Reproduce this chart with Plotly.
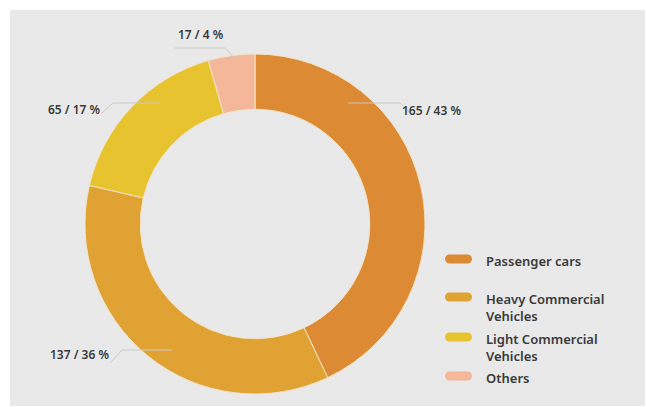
import plotly.graph_objects as go

# ---- data ----
categories = ["Passenger cars", "Heavy Commercial Vehicles", "Light Commercial Vehicles", "Others"]
legend_labels = ["Passenger cars", "Heavy Commercial<br>Vehicles", "Light Commercial<br>Vehicles", "Others"]
values = [165, 137, 65, 17]
percents = [43, 36, 17, 4]
colors = ["#DC8A34", "#E0A232", "#E8C330", "#F4B79A"]

W, H = 646, 407
def px(x):
    return x / W
def py(y):
    return 1 - y / H

fig = go.Figure()

# donut: center (255,224), radius 170
cx, cy, R = 255, 224, 170
fig.add_trace(go.Pie(
    labels=categories,
    values=values,
    hole=0.675,
    sort=False,
    direction="clockwise",
    rotation=0,
    marker=dict(colors=colors, line=dict(color="#F3E3C6", width=1)),
    textinfo="none",
    hoverinfo="label+value+percent",
    showlegend=False,
    domain=dict(x=[px(cx - R), px(cx + R)], y=[py(cy + R), py(cy - R)]),
))

shapes = []
# gray panel
shapes.append(dict(type="rect", xref="paper", yref="paper", x0=px(10), x1=px(645), y0=py(406), y1=py(10),
                   fillcolor="#E9E9E9", line=dict(width=0), layer="below"))

# leader lines (layout positions) and label placement
label_pos = [(432, 110), (79, 354), (74, 109), (201, 35)]
leaders = [
    [(348, 103), (400, 103), (412, 115)],
    [(172, 350), (122, 350), (110, 363)],
    [(160, 103), (113, 103), (102, 113)],
    [(175, 48), (225, 48), (236, 60)],
]
for pts in leaders:
    path = "M " + " L ".join(f"{px(x)},{py(y)}" for x, y in pts)
    shapes.append(dict(type="path", xref="paper", yref="paper", path=path,
                       line=dict(color="#C9C9C9", width=1)))

annotations = []
for (x, y), v, p in zip(label_pos, values, percents):
    annotations.append(dict(text=f"{v} / {p} %", x=px(x), y=py(y), xref="paper", yref="paper",
                            xanchor="center", yanchor="middle", showarrow=False,
                            font=dict(family="Noto Sans", size=12, color="#3A3A3A", weight=600)))

# custom legend with pill markers
legend_marker_y = [259, 297, 337, 376]
lx0, lx1, ph = 445, 472, 9
for ym, lab, col in zip(legend_marker_y, legend_labels, colors):
    r = ph / 2
    y0, y1 = ym - r, ym + r
    k = 0.55 * r
    path = (f"M {px(lx0 + r)},{py(y0)} L {px(lx1 - r)},{py(y0)} "
            f"C {px(lx1 - r + k)},{py(y0)} {px(lx1)},{py(ym - k)} {px(lx1)},{py(ym)} "
            f"C {px(lx1)},{py(ym + k)} {px(lx1 - r + k)},{py(y1)} {px(lx1 - r)},{py(y1)} "
            f"L {px(lx0 + r)},{py(y1)} "
            f"C {px(lx0 + r - k)},{py(y1)} {px(lx0)},{py(ym + k)} {px(lx0)},{py(ym)} "
            f"C {px(lx0)},{py(ym - k)} {px(lx0 + r - k)},{py(y0)} {px(lx0 + r)},{py(y0)} Z")
    shapes.append(dict(type="path", xref="paper", yref="paper", path=path,
                       fillcolor=col, line=dict(width=0)))
    annotations.append(dict(text=lab, x=px(484), y=py(ym - 9.5), xref="paper", yref="paper",
                            xanchor="left", yanchor="top", align="left", showarrow=False,
                            font=dict(family="Noto Sans", size=13, color="#3A3A3A", weight=600)))

fig.update_layout(
    width=W, height=H,
    margin=dict(l=0, r=0, t=0, b=0),
    paper_bgcolor="white",
    plot_bgcolor="white",
    shapes=shapes,
    annotations=annotations,
)

fig.write_html("out.html", config={"displayModeBar": False},
               post_script="document.body.style.margin='0';document.body.style.overflow='hidden';")
